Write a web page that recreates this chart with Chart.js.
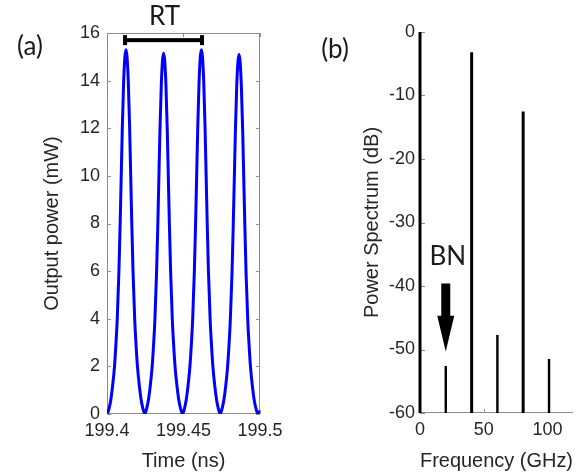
<!DOCTYPE html>
<html>
<head>
<meta charset="utf-8">
<script src="https://cdn.jsdelivr.net/npm/chart.js@4.4.1/dist/chart.umd.min.js"></script>
<style>
  html, body { margin: 0; padding: 0; background: #fff; }
  #wrap { position: relative; width: 588px; height: 474px; }
  canvas { position: absolute; top: 0; }
  #timeChart { left: 0; }
  #spectrumChart { left: 294px; }
</style>
</head>
<body>
<div id="wrap">
  <canvas id="timeChart" width="294" height="474"></canvas>
  <canvas id="spectrumChart" width="294" height="474"></canvas>
</div>
<script>
// (a) output power vs time (one pulse per line)
const timeNs = [
  199.4000, 199.4006, 199.4014, 199.4025, 199.4037, 199.4049, 199.4059, 199.4067, 199.4078, 199.4086, 199.4093, 199.4100, 199.4109, 199.4117, 199.4124, 199.4131, 199.4139, 199.4148, 199.4155, 199.4162, 199.4170, 199.4181, 199.4189, 199.4199, 199.4211, 199.4223, 199.4234, 199.4242, 199.4247,
  199.4252, 199.4260, 199.4271, 199.4283, 199.4295, 199.4305, 199.4313, 199.4324, 199.4332, 199.4339, 199.4346, 199.4355, 199.4363, 199.4370, 199.4377, 199.4385, 199.4394, 199.4401, 199.4408, 199.4416, 199.4427, 199.4435, 199.4445, 199.4457, 199.4469, 199.4480, 199.4488, 199.4494,
  199.4499, 199.4507, 199.4518, 199.4530, 199.4542, 199.4552, 199.4560, 199.4571, 199.4579, 199.4586, 199.4593, 199.4602, 199.4610, 199.4617, 199.4624, 199.4632, 199.4641, 199.4648, 199.4655, 199.4663, 199.4674, 199.4682, 199.4692, 199.4704, 199.4716, 199.4727, 199.4735, 199.4740,
  199.4745, 199.4753, 199.4764, 199.4776, 199.4788, 199.4798, 199.4806, 199.4817, 199.4825, 199.4832, 199.4839, 199.4848, 199.4856, 199.4863, 199.4870, 199.4878, 199.4887, 199.4894, 199.4901, 199.4909, 199.4920, 199.4928, 199.4938, 199.4950, 199.4962, 199.4973, 199.4981, 199.4986, 199.5000
];
const powerMw = [
  0.03, 0.08, 0.25, 0.6, 1.2, 2.0, 3.0, 4.0, 6.0, 8.0, 10.0, 12.0, 14.0, 15.0, 15.3, 15.0, 14.0, 12.0, 10.0, 8.0, 6.0, 4.0, 3.0, 2.0, 1.2, 0.6, 0.25, 0.08, 0.03,
  0.08, 0.25, 0.6, 1.19, 1.98, 2.97, 3.95, 5.95, 7.9, 9.9, 11.9, 13.85, 14.85, 15.15, 14.85, 13.85, 11.9, 9.9, 7.9, 5.95, 3.95, 2.97, 1.98, 1.19, 0.6, 0.25, 0.08, 0.03,
  0.08, 0.25, 0.6, 1.2, 2.0, 3.0, 4.0, 6.0, 8.0, 10.0, 12.0, 14.0, 15.0, 15.3, 15.0, 14.0, 12.0, 10.0, 8.0, 6.0, 4.0, 3.0, 2.0, 1.2, 0.6, 0.25, 0.08, 0.03,
  0.08, 0.25, 0.59, 1.18, 1.97, 2.96, 3.95, 5.9, 7.9, 9.85, 11.85, 13.8, 14.8, 15.1, 14.8, 13.8, 11.85, 9.85, 7.9, 5.9, 3.95, 2.96, 1.97, 1.18, 0.59, 0.25, 0.08, 0.03, 0.12
];

// (b) spectrum lines
const freqGHz    = [0, 20.2, 40.5, 60.7, 80.9, 101.2];
const spectrumDb = [0, -52.6, -3.2, -47.7, -12.5, -51.5];
const isMainLine = [true, false, true, false, true, false];
const floorDb = -60;

// annotations
const rtStartNs = 199.4118, rtEndNs = 199.4621, rtLevelMw = 15.7;
const bnFreqGHz = 20.2, bnLabelDb = -35.3, arrowTopDb = -39.6, arrowHeadDb = -44.7, arrowTipDb = -50.3;

const axisGray = '#8c8c8c';
const textColor = '#262626';
const tickFont = { family: 'Liberation Sans', size: 18 };
const titleFont = { family: 'Liberation Sans', size: 20 };
const noteFont = '26px Lato';

const framePluginA = {
  id: 'frameA',
  beforeDatasetsDraw(chart) {
    const { ctx, chartArea: a, scales: { x, y } } = chart;
    ctx.save();
    ctx.strokeStyle = axisGray;
    ctx.lineWidth = 1;
    ctx.strokeRect(a.left + 0.5, a.top + 0.5, a.width - 1, a.height - 1);
    ctx.beginPath();
    y.ticks.forEach(t => {
      const py = Math.round(y.getPixelForValue(t.value)) + 0.5;
      ctx.moveTo(a.left, py); ctx.lineTo(a.left + 4, py);
      ctx.moveTo(a.right - 4, py); ctx.lineTo(a.right, py);
    });
    x.ticks.forEach(t => {
      const px = Math.round(x.getPixelForValue(t.value)) + 0.5;
      ctx.moveTo(px, a.top); ctx.lineTo(px, a.top + 4);
      ctx.moveTo(px, a.bottom); ctx.lineTo(px, a.bottom - 4);
    });
    ctx.stroke();
    ctx.restore();
  },
  afterDraw(chart) {
    const { ctx, scales: { x, y } } = chart;
    const x1 = x.getPixelForValue(rtStartNs);
    const x2 = x.getPixelForValue(rtEndNs);
    const yb = y.getPixelForValue(rtLevelMw);
    ctx.save();
    ctx.fillStyle = '#000';
    ctx.fillRect(x1, yb - 2, x2 - x1, 4);
    ctx.fillRect(x1 - 2, yb - 5, 4, 10);
    ctx.fillRect(x2 - 2, yb - 5, 4, 10);
    ctx.font = noteFont;
    ctx.fillStyle = '#1a1a1a';
    ctx.textAlign = 'center';
    ctx.textBaseline = 'middle';
    ctx.fillText('RT', (x1 + x2) / 2 + 1, 17);
    ctx.fillText('(a)', 30, 47);
    ctx.restore();
  }
};

const framePluginB = {
  id: 'frameB',
  beforeDatasetsDraw(chart) {
    const { ctx, chartArea: a, scales: { x, y } } = chart;
    ctx.save();
    ctx.strokeStyle = axisGray;
    ctx.lineWidth = 1;
    ctx.beginPath();
    ctx.moveTo(a.left + 0.5, a.top);
    ctx.lineTo(a.left + 0.5, a.bottom - 0.5);
    ctx.lineTo(a.right, a.bottom - 0.5);
    y.ticks.forEach(t => {
      const py = Math.round(y.getPixelForValue(t.value)) + 0.5;
      ctx.moveTo(a.left, py); ctx.lineTo(a.left + 5, py);
    });
    x.ticks.forEach(t => {
      const px = Math.round(x.getPixelForValue(t.value)) + 0.5;
      ctx.moveTo(px, a.bottom); ctx.lineTo(px, a.bottom - 4);
    });
    ctx.stroke();
    ctx.restore();
  },
  afterDraw(chart) {
    const { ctx, scales: { x, y } } = chart;
    const xp = x.getPixelForValue(bnFreqGHz);
    const yTop = y.getPixelForValue(arrowTopDb);
    const yHead = y.getPixelForValue(arrowHeadDb);
    const yTip = y.getPixelForValue(arrowTipDb);
    ctx.save();
    ctx.fillStyle = '#000';
    ctx.fillRect(xp - 4.5, yTop, 9, yHead - yTop + 1);
    ctx.beginPath();
    ctx.moveTo(xp - 8.5, yHead);
    ctx.lineTo(xp + 8.5, yHead);
    ctx.lineTo(xp, yTip);
    ctx.closePath();
    ctx.fill();
    ctx.font = noteFont;
    ctx.fillStyle = '#1a1a1a';
    ctx.textAlign = 'center';
    ctx.textBaseline = 'middle';
    ctx.fillText('BN', xp + 2, y.getPixelForValue(bnLabelDb));
    ctx.fillText('(b)', 41, 50);
    ctx.restore();
  }
};

new Chart(document.getElementById('timeChart').getContext('2d'), {
  type: 'line',
  data: {
    datasets: [{
      data: timeNs.map((t, i) => ({ x: t, y: powerMw[i] })),
      borderColor: '#0000ff',
      borderWidth: 3,
      pointRadius: 0,
      cubicInterpolationMode: 'monotone',
      fill: false
    }]
  },
  options: {
    responsive: false,
    animation: false,
    events: [],
    layout: { padding: { top: 33, right: 34, bottom: 0, left: 0 } },
    plugins: { legend: { display: false }, tooltip: { enabled: false } },
    scales: {
      x: {
        type: 'linear',
        min: 199.4,
        max: 199.5,
        grid: { display: false, drawTicks: false },
        border: { display: false },
        ticks: {
          stepSize: 0.05,
          padding: 6,
          maxRotation: 0,
          autoSkip: false,
          font: tickFont,
          color: textColor,
          callback: v => String(Number(v.toFixed(2)))
        },
        title: { display: true, text: 'Time (ns)', font: titleFont, color: textColor, padding: { top: 0, bottom: 1 } },
        afterFit: s => { s.height = 60; }
      },
      y: {
        min: 0,
        max: 16,
        grid: { display: false, drawTicks: false },
        border: { display: false },
        ticks: { stepSize: 2, padding: 7, font: tickFont, color: textColor },
        title: { display: true, text: 'Output power (mW)', font: titleFont, color: textColor, padding: { top: 40, bottom: 0 } },
        afterFit: s => { s.width = 107; }
      }
    }
  },
  plugins: [framePluginA]
});

// each spectral line is a two-point vertical segment from the floor up to its level
const spectrumSets = freqGHz.map((f, i) => ({
  data: [{ x: f, y: floorDb }, { x: f, y: spectrumDb[i] }],
  borderColor: '#000',
  borderWidth: isMainLine[i] ? 3 : 2.4,
  borderCapStyle: 'butt',
  pointRadius: 0,
  clip: false,
  fill: false
}));

new Chart(document.getElementById('spectrumChart').getContext('2d'), {
  type: 'line',
  data: { datasets: spectrumSets },
  options: {
    responsive: false,
    animation: false,
    events: [],
    layout: { padding: { top: 32, right: 15, bottom: 0, left: 0 } },
    plugins: { legend: { display: false }, tooltip: { enabled: false } },
    scales: {
      x: {
        type: 'linear',
        min: 0,
        max: 120,
        grid: { display: false, drawTicks: false },
        border: { display: false },
        ticks: { stepSize: 50, includeBounds: false, padding: 6, maxRotation: 0, font: tickFont, color: textColor },
        title: { display: true, text: 'Frequency (GHz)', font: titleFont, color: textColor, padding: { top: 0, bottom: 1 } },
        afterFit: s => { s.height = 61; }
      },
      y: {
        min: -60,
        max: 0,
        grid: { display: false, drawTicks: false },
        border: { display: false },
        ticks: { stepSize: 10, padding: 5, font: tickFont, color: textColor },
        title: { display: true, text: 'Power Spectrum (dB)', font: titleFont, color: textColor, padding: { top: 66, bottom: 0 } },
        afterFit: s => { s.width = 126; }
      }
    }
  },
  plugins: [framePluginB]
});
</script>
</body>
</html>
